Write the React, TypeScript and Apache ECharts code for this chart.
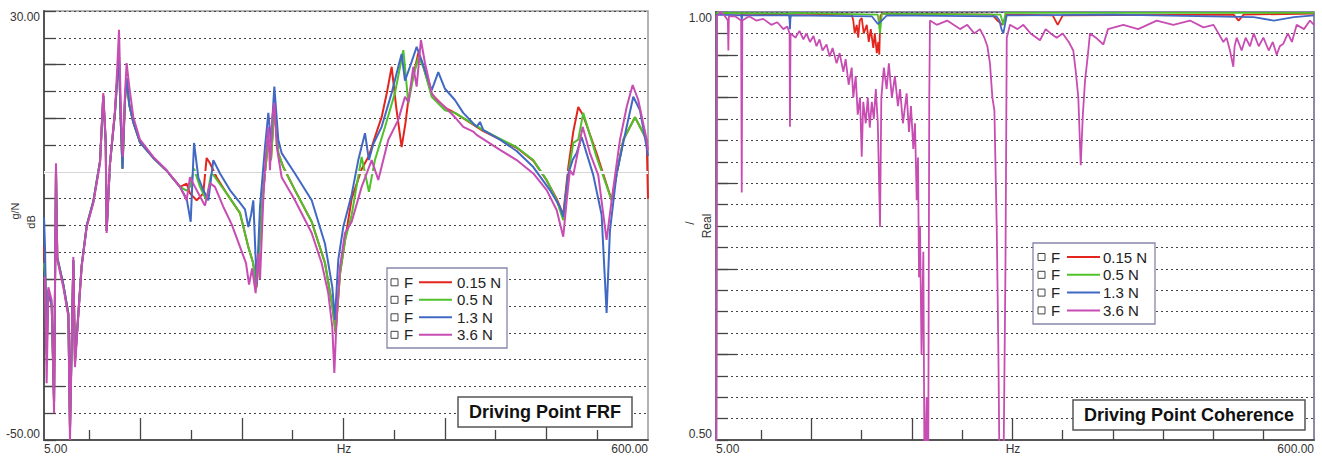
import React, { useEffect, useRef } from "react";
import * as echarts from "echarts";

const FONT = "'Liberation Sans', Arial, sans-serif";

// ---------- labels / categories ----------
const forceLabels = ["0.15 N", "0.5 N", "1.3 N", "3.6 N"];
const seriesColors = ["#e3261d", "#4fc22b", "#4169c4", "#c84db3"];
const panelTitles = ["Driving Point FRF", "Driving Point Coherence"];
const xAxisName = "Hz";

const xTickMajor = [100, 200, 300, 400, 500];
const xTickMinor = [50, 150, 250, 350, 450, 550];
const xLabelValues = [5, 600];
const frfLabelValues = [-50, 30];
const frfMajorTicks = [-40, -30, -20, -10, 0, 10, 20];
const cohLabelValues = [0.5, 1.0];
const cohMajorTicks = [0.6, 0.7, 0.8, 0.9, 0.95];

type P = [number, number];

// ---------- FRF (dB) [Hz, dB] ----------
const frfOverlapLow: P[] = [
  [9.3, -22], [12.6, -25], [14.9, -43], [16.8, 0.5], [18.1, -16], [24, -21], [29, -26.5],
  [30.6, -48], [33.9, -16.5], [35.5, -35.5], [38.8, -26.5], [42.1, -17.5], [47.1, -10],
  [53.6, -5.5], [60.2, 2], [63.4, 14.2], [65.8, 5.5], [66.7, -11], [70, 1.5], [74.9, 11],
  [77.2, 17.5], [78.9, 21.5], [80.5, 10], [82.3, 0.6], [84.8, 13.5], [86.4, 17.5], [89, 12.5],
  [93, 9.2], [99.6, 5.5], [112.7, 2.6], [125.9, 0.2], [139, -2.8],
];

const frf015: P[] = [
  [5, -14], [6, -18], [7.6, -33], ...frfOverlapLow,
  [145.5, -2.2], [148.8, -4], [155.4, -5.3], [161.9, -4], [165.2, 2.6], [168.5, 1.6], [175, -1],
  [184.9, -4], [198.1, -7.7], [206.3, -14], [211, -17], [214.5, -21.5], [216, -17], [221, -3.5],
  [226, 6], [228.6, 2.2], [231.9, 12], [235.8, 3.5], [240.7, 0.9], [252.2, -3.4], [268.7, -9.3],
  [281.8, -17], [289, -25], [292.3, -30], [296.6, -19], [301.5, -12.8], [308.1, -5], [317.9, 0.5],
  [325.1, 3], [331, 6.5], [337.6, 10.2], [343, 15], [347.5, 19.6], [352, 12], [357.3, 4.6],
  [361, 9], [363.9, 13.4], [368.8, 18], [373.8, 22.2], [378.7, 19.6], [386.9, 14.5], [400, 12],
  [409.8, 11], [437.8, 7.6], [470.6, 4.5], [487, 2.1], [500.2, -1.6], [510, -5], [516.5, -8],
  [521.5, 0.9], [526.4, 7.5], [531.3, 12.1], [536.2, 10.5], [549.3, 3.5], [564.2, -5.3],
  [575.7, 6], [587.2, 10.2], [598.7, 6], [600, -5],
];

const frf05: P[] = [
  [5, -17], [6, -19], [7.6, -33], ...frfOverlapLow,
  [145.5, -3.5], [148.8, -2.8], [152.8, 0.6], [158.7, -2.8], [165, -5.3], [170, 0], [173.4, -1],
  [184.9, -4], [198.1, -7.7], [206.3, -14], [211, -17], [214.5, -21.5], [216, -17], [221, -3.5],
  [226, 6], [228.6, 2.2], [231.9, 12], [235.8, 3.5], [240.7, 0.9], [252.2, -3.4], [268.7, -9.3],
  [281.8, -17], [289, -25], [292.3, -30], [296.6, -19], [301.5, -12.8], [308.1, -8], [317.9, 2.8],
  [325.1, -3.7], [331, 2.2], [341, 8.4], [350.7, 14.7], [359, 22.7], [363.9, 12.8], [368.8, 17.7],
  [373.8, 21.4], [378.7, 19.6], [386.9, 14], [400, 11.5], [409.8, 11], [437.8, 7.8], [470.6, 4.6],
  [487, 2.2], [500.2, -1.5], [510, -5.3], [516.5, -9], [521.5, -0.3], [526.4, 5.4], [531.3, 6],
  [536.2, 11], [549.3, 2.8], [564.2, -5.3], [575.7, 6], [587.2, 10.2], [598.7, 6], [600, 5.5],
];

const frf13: P[] = [
  [5, -8.5], [6, -14], [7.6, -34], ...frfOverlapLow,
  [145.5, -5], [149.5, -9.3], [152.8, 5.4], [157, -1], [161, -3], [165, -4.6], [166.9, -5.3],
  [171.8, 2.2], [178.4, -0.3], [188.2, -3.4], [198.1, -5.8], [203, -7], [206.3, -10.3], [209, -8],
  [211.2, -5.3], [214.5, -21], [217.8, -6.5], [222.7, 4.6], [226, 11], [228.6, 5.5], [231.9, 15.9],
  [235.8, 6], [239.1, 3.5], [252.2, -0.3], [268.7, -5.3], [281.8, -13.4], [289, -21.5],
  [291.6, -27.6], [294.9, -16.4], [299.8, -10.3], [308.1, -4.2], [314.6, 2.2], [321.2, 7.2],
  [325.1, 2.2], [329.4, 5.2], [337.6, 8.4], [347.5, 14.7], [354, 19.6], [357.3, 22], [360.6, 17],
  [365.5, 19.6], [372.1, 23.3], [377, 20.8], [386.9, 15.2], [393.4, 18.6], [400, 15.5],
  [409.8, 13.4], [418, 11], [431.2, 8.4], [434.5, 9.3], [437.8, 7.8], [454.2, 6], [470.6, 3.9],
  [487, 0.9], [503.4, -3.4], [513.2, -6.5], [516.5, -8.4], [521.5, -0.3], [525.7, 2.2],
  [529.7, 3.5], [534.6, 6.5], [546.1, -0.6], [554.3, -8], [559.2, -26.3], [562.5, -11],
  [569.1, -0.3], [579, 8.4], [585.5, 14], [592.1, 11.5], [598.7, 4.6], [600, 3],
];

const frf36: P[] = [
  [5, -20], [6, -19.6], [7.6, -39.4], [9.3, -21.5], [12.6, -24], [14.9, -45], [16.8, 1.6],
  [18.1, -16.4], [24, -21.5], [29, -27], [30.6, -50], [33.9, -15.9], [35.5, -36.4], [38.8, -27],
  [42.1, -17.7], [47.1, -10.3], [53.6, -5.8], [60.2, 1.6], [63.4, 14.7], [65.8, 6], [66.7, -11.4],
  [70, 1.6], [74.9, 11.5], [77.2, 19.6], [78.9, 26.5], [80.5, 13.4], [82.5, 2.8], [84.8, 14.7],
  [86.4, 20.3], [89, 15.9], [93, 10.2], [99.6, 6], [112.7, 2.8], [125.9, 0.3], [139, -2.8],
  [145.5, -5.3], [148.8, -1], [153.7, -2.8], [158.7, -4.6], [163.6, -6.3], [168.5, -2.1],
  [173.4, -2.8], [181.6, -6.5], [189.9, -9.8], [198.1, -14], [204, -17], [207, -21], [210, -18],
  [213.5, -22.6], [216.1, -15.1], [217.8, -20], [221, -5.3], [223.4, 2.8], [226, 8.4],
  [227.6, 0.3], [229.9, 10.2], [231.9, 12.8], [234.2, 4.8], [239.1, -1], [252.2, -5.3],
  [268.7, -11.4], [278.5, -17], [285, -22.6], [289, -28.9], [291, -37.5], [293.3, -27],
  [296.6, -17.7], [301.5, -11.4], [308.1, -9.3], [317.9, -2.8], [327.8, 2.2], [334.3, -1.5],
  [344.2, 6], [354, 9.7], [360.6, 14], [364, 13], [368.8, 19.6], [372.1, 15.9], [376.3, 24.6],
  [380.3, 20.3], [386.9, 14.7], [391.8, 13.4], [400, 12.1], [409.8, 10.2], [418, 8.4],
  [427.9, 7.5], [431.2, 6.9], [454.2, 4.1], [470.6, 2.2], [487, -0.3], [500.2, -3.4], [510, -7.1],
  [516.5, -12.1], [519.9, -5.3], [523.1, 0.3], [526.4, -0.6], [531.3, 4.1], [535.6, 8.4],
  [542.8, 3.5], [551, -0.6], [559.2, -12.7], [564.2, -5.3], [572.4, 6], [579, 12.1], [584.9, 16.2],
  [590.4, 13.4], [598.7, 6], [600, 4],
];

// ---------- Coherence (Real) [Hz, value] ----------
const coh015: P[] = [
  [5, 0.2], [5.6, 0.998], [30, 0.998], [30.6, 0.993], [31.2, 0.998], [78, 0.997], [78.6, 0.99],
  [79.2, 0.998], [140, 0.997], [141.6, 0.99], [143, 0.975], [145, 0.985], [146.5, 0.97], [148, 0.99],
  [150, 0.993], [152, 0.975], [155, 0.985], [157, 0.965], [159, 0.98], [161.5, 0.958], [163, 0.975],
  [165, 0.952], [166.5, 0.965], [167.5, 0.95], [168.5, 0.995], [170, 0.998], [280, 0.997],
  [285, 0.99], [290, 0.985], [294, 0.997], [340, 0.996], [345, 0.985], [350, 0.996], [520, 0.997],
  [525, 0.99], [530, 0.997], [600, 0.998],
];

const coh05: P[] = [
  [5, 0.2], [5.6, 0.999], [78, 0.998], [78.6, 0.99], [79.2, 0.999], [166, 0.997], [168.2, 0.975],
  [170, 0.998], [288, 0.997], [290.9, 0.985], [293, 0.999], [600, 0.999],
];

const coh13: P[] = [
  [5, 0.2], [5.6, 0.997], [30.3, 0.996], [30.6, 0.99], [31, 0.996], [78, 0.996], [78.6, 0.98],
  [79.2, 0.996], [160, 0.995], [166, 0.986], [170, 0.99], [175, 0.996], [284, 0.995], [287, 0.99],
  [289, 0.98], [290.9, 0.975], [292.5, 0.985], [294.3, 0.996], [400, 0.997], [540, 0.994],
  [560, 0.99], [580, 0.994], [600, 0.996],
];

const coh36: P[] = [
  [5, 0.2], [5.6, 0.995], [10, 1.0], [14, 0.995], [16.8, 0.99], [17.3, 0.955], [17.8, 0.995],
  [24, 0.995], [30, 0.99], [30.6, 0.789], [31.2, 0.99], [38, 0.995], [45, 0.99], [52, 0.992],
  [60, 0.985], [66, 0.988], [72, 0.98], [76, 0.983], [78.2, 0.975], [78.6, 0.866], [79.2, 0.975],
  [84, 0.97], [88, 0.978], [92, 0.968], [95, 0.975], [98.5, 0.965], [102, 0.972], [105, 0.96],
  [108, 0.968], [111, 0.955], [115, 0.962], [118, 0.948], [121, 0.958], [125, 0.94], [128, 0.952],
  [131.7, 0.93], [134, 0.945], [137, 0.915], [140, 0.935], [141.6, 0.9], [144, 0.925], [146, 0.88],
  [148.3, 0.9], [150, 0.831], [151.5, 0.895], [154, 0.87], [156, 0.9], [158, 0.865], [160, 0.895],
  [162, 0.875], [164, 0.91], [166, 0.87], [168.2, 0.749], [169.5, 0.9], [172, 0.935], [174.8, 0.91],
  [177, 0.94], [180, 0.9], [183, 0.925], [186, 0.89], [188.1, 0.91], [191, 0.87], [194.7, 0.905],
  [197, 0.86], [199, 0.89], [201.3, 0.84], [203, 0.87], [204.7, 0.78], [206, 0.83], [207, 0.69],
  [208, 0.75], [209.5, 0.6], [211.3, 0.72], [212.5, 0.45], [214.6, 0.55], [216, 0.4], [217.2, 0.9],
  [217.9, 0.99], [224.6, 0.985], [235, 0.99], [247.8, 0.98], [255, 0.985], [262, 0.975],
  [267.7, 0.98], [272, 0.97], [275, 0.96], [277.6, 0.94], [280, 0.9], [282, 0.885], [284.3, 0.75],
  [286, 0.6], [287.6, 0.4], [290.9, 0.45], [293, 0.7], [294.3, 0.97], [297.5, 0.985], [305, 0.98],
  [310.8, 0.985], [318, 0.975], [327.4, 0.967], [333, 0.98], [338, 0.975], [344, 0.97],
  [350, 0.975], [356, 0.965], [360.5, 0.955], [363, 0.93], [365.5, 0.9], [367.9, 0.821],
  [370, 0.88], [372.2, 0.92], [375, 0.95], [377.1, 0.975], [383, 0.97], [390.4, 0.962],
  [395, 0.98], [410.3, 0.985], [425, 0.98], [443.5, 0.99], [460, 0.985], [476.6, 0.99],
  [490, 0.982], [500, 0.985], [505, 0.975], [509.8, 0.965], [513, 0.97], [516.4, 0.955],
  [519.7, 0.936], [521, 0.96], [523.1, 0.97], [528, 0.955], [532, 0.97], [536.3, 0.96],
  [540, 0.975], [545, 0.96], [549.6, 0.97], [555, 0.955], [559, 0.965], [562.9, 0.95], [566, 0.96],
  [569.5, 0.963], [574, 0.975], [578, 0.965], [582.8, 0.985], [590, 0.98], [596, 0.99], [600, 0.985],
];

const frfSeriesData = [frf015, frf05, frf13, frf36];
const cohSeriesData = [coh015, coh05, coh13, coh36];

const labelStyle = { color: "#333", fontSize: 12, fontFamily: FONT };

function xAxesFor(gridIndex: number) {
  return [
    {
      type: "value", gridIndex, min: 5, max: 600, position: "bottom",
      axisLine: { show: true, onZero: false, lineStyle: { color: "#555", width: 2 } },
      axisTick: { show: true, inside: true, length: 22, customValues: xTickMajor, lineStyle: { color: "#444", width: 1.3 } },
      axisLabel: {
        show: true, inside: false, customValues: xLabelValues, formatter: (v: number) => v.toFixed(2),
        alignMinLabel: "left", alignMaxLabel: "right", margin: 3, ...labelStyle,
      },
      splitLine: { show: false },
    },
    {
      type: "value", gridIndex, min: 5, max: 600, position: "bottom",
      axisLine: { show: false, onZero: false },
      axisTick: { show: true, inside: true, length: 10, customValues: xTickMinor, lineStyle: { color: "#444", width: 1.3 } },
      axisLabel: { show: false },
      splitLine: { show: false },
    },
  ];
}

function yAxesFor(gridIndex: number, min: number, max: number, interval: number, labels: number[], major: number[]) {
  return [
    {
      type: "value", gridIndex, min, max, interval, position: "left",
      axisLine: { show: true, onZero: false, lineStyle: { color: "#555", width: 2 } },
      axisTick: { show: true, inside: true, length: 12, lineStyle: { color: "#444", width: 1.3 } },
      axisLabel: {
        show: true, inside: false, customValues: labels, formatter: (v: number) => v.toFixed(2),
        verticalAlignMinLabel: "bottom", verticalAlignMaxLabel: "top", margin: 4, ...labelStyle,
      },
      splitLine: { show: true, lineStyle: { color: "#444", width: 1.2, type: [2, 3] } },
    },
    {
      type: "value", gridIndex, min, max, position: "left",
      axisLine: { show: false, onZero: false },
      axisTick: { show: true, inside: true, length: 21, customValues: major, lineStyle: { color: "#444", width: 1.3 } },
      axisLabel: { show: false },
      splitLine: { show: false },
    },
  ];
}

function legendGraphic(bx: number, by: number, bw: number, bh: number, r0: number, dy: number,
  sqX: number, fX: number, l0: number, l1: number, tX: number) {
  const els: any[] = [
    { type: "rect", z: 100, shape: { x: bx, y: by, width: bw, height: bh }, style: { fill: "#fff", stroke: "#8686ab", lineWidth: 1.3 } },
  ];
  forceLabels.forEach((lab, i) => {
    const cy = r0 + i * dy;
    els.push(
      { type: "rect", z: 101, shape: { x: sqX, y: cy - 3.5, width: 7, height: 7 }, style: { fill: "#fff", stroke: "#444", lineWidth: 1 } },
      { type: "text", z: 101, x: fX, y: cy, style: { text: "F", fontSize: 15, fontFamily: FONT, fill: "#222", align: "left", verticalAlign: "middle" } },
      { type: "line", z: 101, shape: { x1: l0, y1: cy, x2: l1, y2: cy }, style: { stroke: seriesColors[i], lineWidth: 2 } },
      { type: "text", z: 101, x: tX, y: cy, style: { text: lab, fontSize: 15, fontFamily: FONT, fill: "#222", align: "left", verticalAlign: "middle" } },
    );
  });
  return els;
}

function axisNameText(text: string, x: number, y: number, size: number) {
  return { type: "text", x, y, rotation: Math.PI / 2, style: { text, fontSize: size, fontFamily: FONT, fill: "#333", align: "center", verticalAlign: "middle" } };
}

function plainText(text: string, x: number, y: number) {
  return { type: "text", x, y, style: { text, ...labelStyle, fill: "#333", align: "center", verticalAlign: "middle" } };
}

export default function App() {
  const ref = useRef<HTMLDivElement>(null);
  useEffect(() => {
    if (!ref.current) return;
    const chart = echarts.init(ref.current, undefined, { renderer: "svg" });

    const frfSeries = forceLabels.map((name, i) => ({
      type: "line", name, xAxisIndex: 0, yAxisIndex: 0, data: frfSeriesData[i],
      showSymbol: false, symbol: "none", z: 3 + i,
      lineStyle: { color: seriesColors[i], width: 2 }, itemStyle: { color: seriesColors[i] },
    }));
    const cohSeries = forceLabels.map((name, i) => ({
      type: "line", name, xAxisIndex: 2, yAxisIndex: 2, data: cohSeriesData[i],
      showSymbol: false, symbol: "none", z: 3 + i,
      lineStyle: { color: seriesColors[i], width: 1.8 }, itemStyle: { color: seriesColors[i] },
    }));

    const option: any = {
      animation: false,
      backgroundColor: "#fff",
      textStyle: { fontFamily: FONT },
      title: [
        {
          text: panelTitles[0], left: 458, top: 397, padding: [6, 11, 6, 11],
          borderColor: "#555", borderWidth: 1.5, backgroundColor: "#fff", z: 110,
          textStyle: { fontSize: 18, fontWeight: "bold", color: "#111", fontFamily: FONT },
        },
        {
          text: panelTitles[1], left: 1073, top: 400, padding: [6, 11, 6, 11],
          borderColor: "#555", borderWidth: 1.5, backgroundColor: "#fff", z: 110,
          textStyle: { fontSize: 18, fontWeight: "bold", color: "#111", fontFamily: FONT },
        },
      ],
      grid: [
        { left: 44, top: 11, width: 604, height: 429, show: true, borderColor: "#999", borderWidth: 1.5, backgroundColor: "#fff", outerBoundsMode: "none" },
        { left: 716, top: 12, width: 598, height: 428, show: true, borderColor: "#66668a", borderWidth: 1.5, backgroundColor: "#fff", outerBoundsMode: "none" },
      ],
      xAxis: [...xAxesFor(0), ...xAxesFor(1)],
      yAxis: [
        ...yAxesFor(0, -50, 30, 5, frfLabelValues, frfMajorTicks),
        ...yAxesFor(1, 0.5, 1.0, 0.025, cohLabelValues, cohMajorTicks),
      ],
      series: [
        {
          type: "line", xAxisIndex: 0, yAxisIndex: 0, data: [], symbol: "none", z: 2, silent: true,
          markLine: {
            silent: true, symbol: ["none", "none"], label: { show: false },
            data: [
              { yAxis: 0, lineStyle: { color: "#fff", width: 3, type: "solid" } },
              { yAxis: 0, lineStyle: { color: "#d6d6d6", width: 1, type: "solid" } },
            ],
          },
        },
        ...frfSeries,
        ...cohSeries,
      ],
      graphic: [
        ...legendGraphic(387, 268, 120, 80, 282.3, 17.5, 391, 404, 419, 452, 457),
        ...legendGraphic(1033, 243, 122, 81, 257, 17.8, 1038, 1051, 1067, 1100, 1103),
        axisNameText("g/N", 15, 211, 11),
        axisNameText("dB", 31, 222, 11),
        axisNameText("/", 690, 223, 12),
        axisNameText("Real", 707, 226, 12),
        plainText(xAxisName, 344, 449),
        plainText(xAxisName, 1013, 449),
      ],
    };
    chart.setOption(option);
    return () => chart.dispose();
  }, []);
  return <div ref={ref} style={{ position: "fixed", left: 0, top: 0, width: 1322, height: 457 }} />;
}
